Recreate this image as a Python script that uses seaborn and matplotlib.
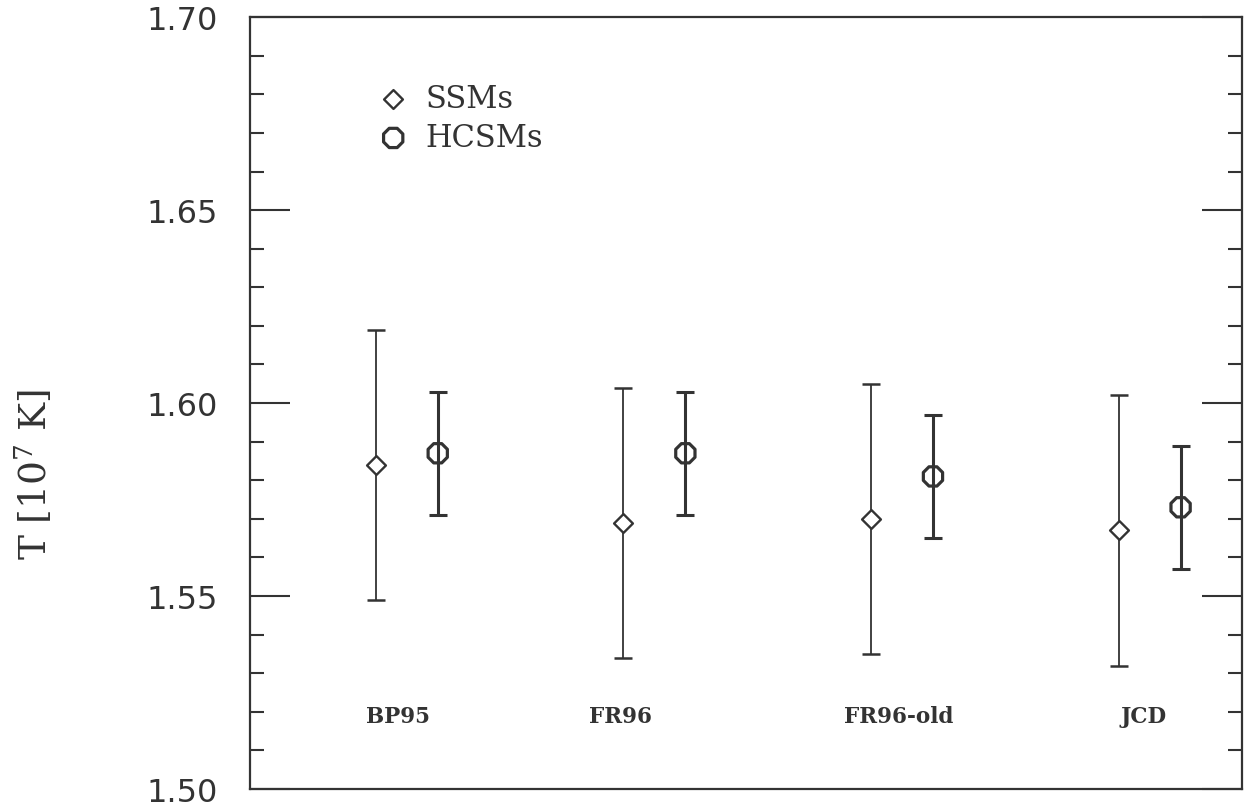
import numpy as np
import pandas as pd
import matplotlib
matplotlib.use('Agg')
import matplotlib.pyplot as plt
from matplotlib.ticker import MultipleLocator
import seaborn as sns

# data
models = ['BP95', 'FR96', 'FR96-old', 'JCD']
ssm_T = [1.584, 1.569, 1.570, 1.567]
ssm_err = [0.035, 0.035, 0.035, 0.035]
hcsm_T = [1.587, 1.587, 1.581, 1.573]
hcsm_err = [0.016, 0.016, 0.016, 0.016]

sns.set_theme(style='ticks')
plt.rcParams['font.family'] = ['DejaVu Sans']
plt.rcParams['mathtext.fontset'] = 'dejavuserif'

ink = '#333333'
idx = np.arange(len(models))
df = pd.DataFrame({
    'pos': np.concatenate([idx - 0.125, idx + 0.125]),
    'T': ssm_T + hcsm_T,
    'err': ssm_err + hcsm_err,
    'kind': ['SSMs'] * len(models) + ['HCSMs'] * len(models),
})

fig = plt.figure(figsize=(12.44, 8.12), dpi=100)
ax = fig.add_axes([0.201, 0.027, 0.7974, 0.9507])

ssm = df[df['kind'] == 'SSMs']
hcsm = df[df['kind'] == 'HCSMs']

ax.errorbar(ssm['pos'], ssm['T'], yerr=ssm['err'], fmt='none', ecolor=ink,
            elinewidth=1.3, capsize=6.3, capthick=1.8, zorder=2)
ax.errorbar(hcsm['pos'], hcsm['T'], yerr=hcsm['err'], fmt='none', ecolor=ink,
            elinewidth=2.2, capsize=6.3, capthick=2.2, zorder=2)

sns.scatterplot(data=ssm, x='pos', y='T', marker='D', s=92, color='white',
                edgecolor=ink, linewidth=1.7, label='SSMs', ax=ax, zorder=3)
sns.scatterplot(data=hcsm, x='pos', y='T', marker='8', s=225, color='none',
                edgecolor=ink, linewidth=2.3, label='HCSMs', ax=ax, zorder=3)

label_x = [-0.036, 0.863, 1.986, 2.974]
for xx, name in zip(label_x, models):
    ax.text(xx, 1.519, name, ha='center', va='center', fontsize=15.5,
            fontweight='bold', family='DejaVu Serif', color=ink)

ax.set_xlim(-0.633, 3.373)
ax.set_ylim(1.50, 1.70)
ax.set_xticks([])
ax.set_xlabel('')
ax.yaxis.set_major_locator(MultipleLocator(0.05))
ax.yaxis.set_minor_locator(MultipleLocator(0.01))
ax.yaxis.set_major_formatter(matplotlib.ticker.FormatStrFormatter('%.2f'))
ax.tick_params(axis='y', which='both', direction='in', left=True, right=True,
               colors=ink, width=1.5)
ax.tick_params(axis='y', which='major', length=29, pad=23, labelsize=23)
ax.tick_params(axis='y', which='minor', length=10)
for sp in ax.spines.values():
    sp.set_visible(True)
    sp.set_color(ink)
    sp.set_linewidth(1.6)

ax.set_ylabel('T [10$^7$ K]', fontsize=27, family='DejaVu Serif', color=ink,
              va='center')
ax.yaxis.set_label_coords(-0.2177, 0.408)

leg = ax.legend(loc='upper left', bbox_to_anchor=(0.132, 0.915), frameon=False,
                prop={'family': 'DejaVu Serif', 'size': 22}, handlelength=0.8,
                handletextpad=0.65, labelspacing=0.27, borderpad=0,
                borderaxespad=0)
for t in leg.get_texts():
    t.set_color(ink)

fig.savefig('out.png', dpi=100)
